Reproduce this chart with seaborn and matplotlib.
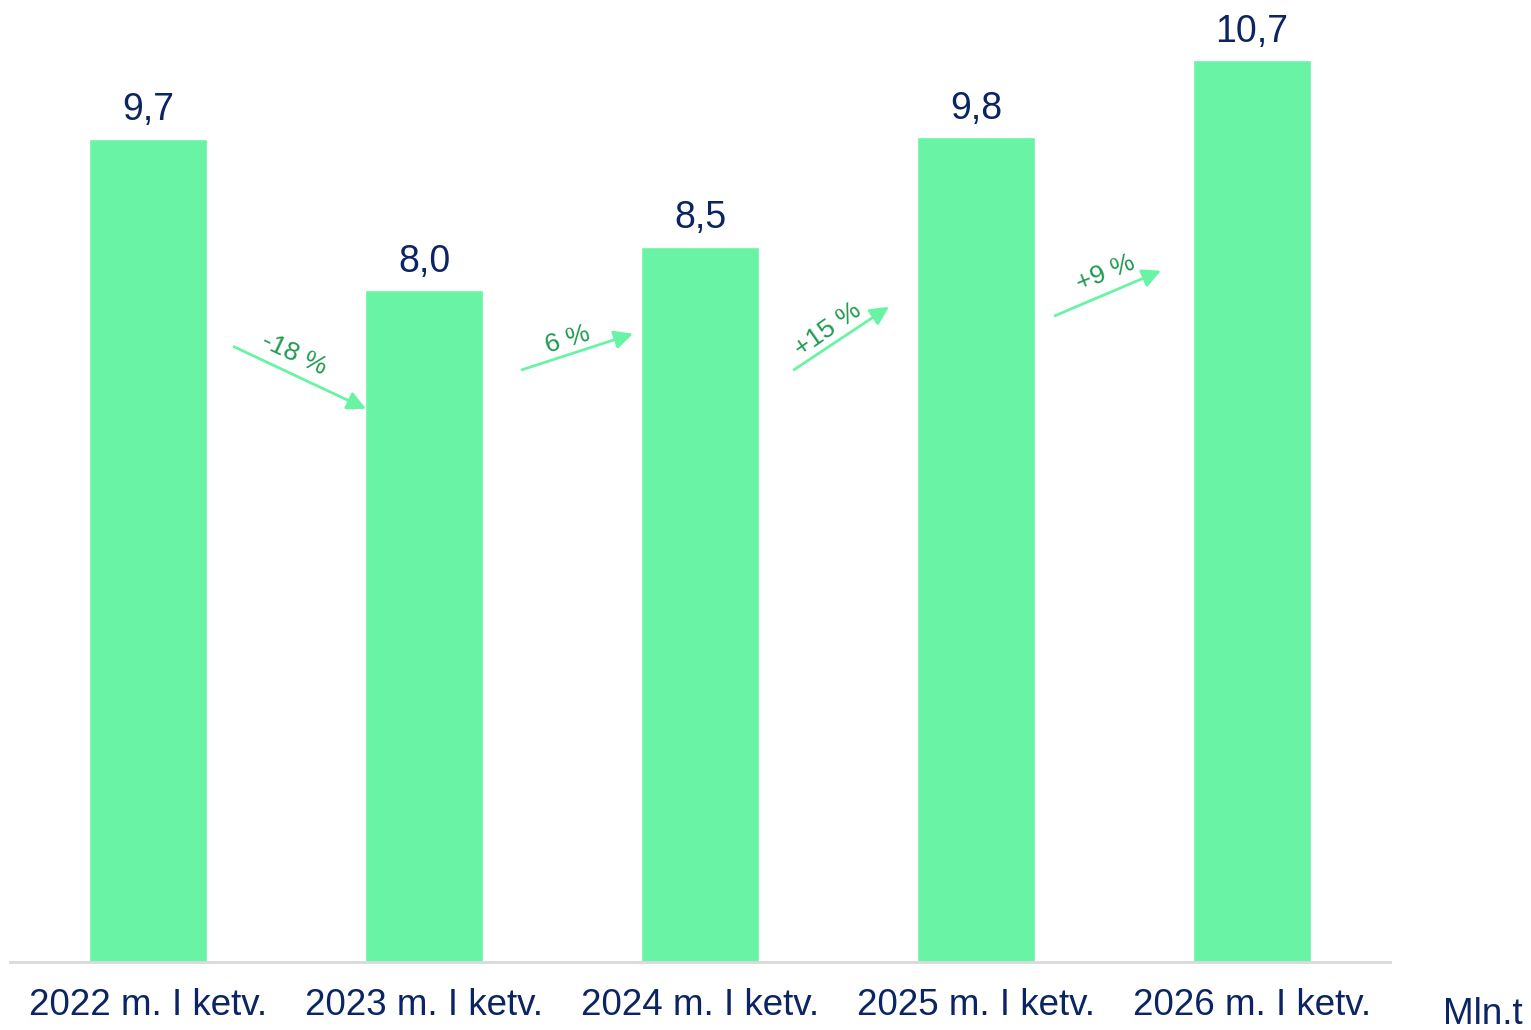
import matplotlib
matplotlib.use("Agg")
import matplotlib.pyplot as plt
import seaborn as sns
import pandas as pd

categories = ["2022 m. I ketv.", "2023 m. I ketv.", "2024 m. I ketv.", "2025 m. I ketv.", "2026 m. I ketv."]
values = [9.74, 7.95, 8.46, 9.76, 10.67]
value_labels = ["9,7", "8,0", "8,5", "9,8", "10,7"]
change_labels = ["-18 %", "6 %", "+15 %", "+9 %"]
unit_label = "Mln.t"

BAR = "#68F4A4"
NAVY = "#0B2463"
GREEN_TXT = "#1E9A50"

sns.set_theme(style="white")
plt.rcParams["font.family"] = ["Liberation Sans", "DejaVu Sans"]

df = pd.DataFrame({"cat": categories, "val": values})

fig = plt.figure(figsize=(15.31, 10.30), dpi=100)
ax = fig.add_axes([10/1531, 68/1030, 1380/1531, 962/1030])
sns.barplot(data=df, x="cat", y="val", color=BAR, width=0.425, saturation=1, ax=ax)
ax.set_ylim(0, 11.38)
ax.set_xlim(-0.5, 4.5)
ax.set_xlabel("")
ax.set_ylabel("")
ax.set_yticks([])
for s in ["top", "right", "left"]:
    ax.spines[s].set_visible(False)
ax.spines["bottom"].set_color("#D9D9D9")
ax.spines["bottom"].set_linewidth(2)
ax.tick_params(axis="x", length=0, pad=19, labelsize=26.5, labelcolor=NAVY)

for i, (v, lab) in enumerate(zip(values, value_labels)):
    ax.annotate(lab, xy=(i, v), xytext=(0, 7.5), textcoords="offset points",
                ha="center", va="bottom", fontsize=27, color=NAVY)

def px2d(px, py):
    return ((px - 148) / 276.0, (962 - py) / 84.5)

arrows = [((234, 347), (366, 409)), ((522, 370), (633, 334)),
          ((794, 370), (889, 307)), ((1055, 316), (1161, 271))]
text_pos = [((294, 354), -25), ((568, 340), 17), ((828, 330), 35), ((1106, 273), 22)]
for (p0, p1), ((tx, ty), rot), lab in zip(arrows, text_pos, change_labels):
    ax.annotate("", xy=px2d(*p1), xytext=px2d(*p0),
                arrowprops=dict(arrowstyle="-|>", color=BAR, lw=2, mutation_scale=28,
                                shrinkA=0, shrinkB=0))
    x, y = px2d(tx, ty)
    ax.text(x, y, lab, rotation=rot, ha="center", va="center", fontsize=19,
            color=GREEN_TXT, rotation_mode="anchor")

fig.text(1483/1531, 1 - 1014/1030, unit_label, ha="center", va="center", fontsize=26.5, color=NAVY)

fig.savefig("out.png", dpi=100, facecolor="white")
